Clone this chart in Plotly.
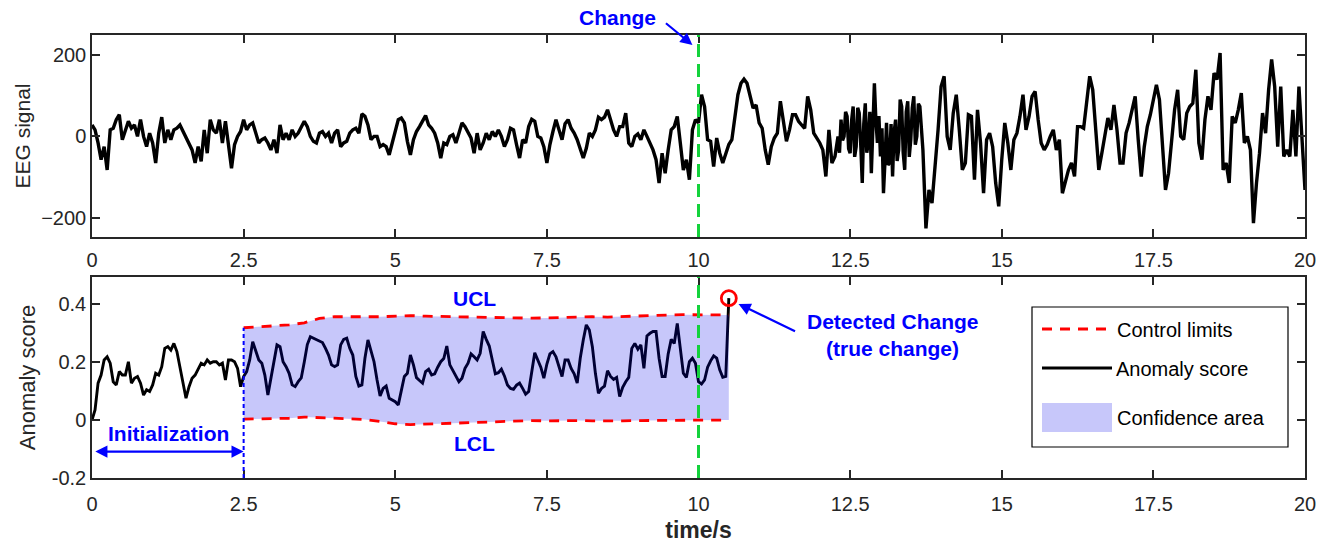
import numpy as np
import plotly.graph_objects as go

FONT = "Arial, Liberation Sans, sans-serif"
AXIS_GREY = "#262626"
BLUE = "#0000ff"

# EEG recording (µV): 0.05 s sampling, except a finer 0.025 s stretch
# over the fast burst between 12.3 s and 13.7 s
DT = 0.05
DT_FAST = 0.025
FAST_START, FAST_END = 12.3, 13.7

eeg_uv_before = [
    28, 16, -16, -57, -25, -82, 16, 20, 41, 53,
    -8, 16, 37, 20, 28, 0, 41, 0, -25, 8,
    -16, -65, 8, 47, -16, 16, -8, 16, 20, 28,
    12, -4, -20, -33, -65, -25, -61, 16, -41, 41,
    16, 8, 41, -16, 37, -16, -78, -20, 0, 12,
    41, 16, 28, 33, 8, -16, -8, -4, -16, -33,
    -8, -41, 28, -8, 8, -8, 16, 0, 8,
    24, 37, 24, 0, -12, -16, 8, 12, 0, 8,
    -16, 8, 16, -25, -16, -12, 8, 16, 20, 8,
    55, 49, 28, -8, 0, 0, -25, -20, -25, -45,
    -16, 16, 41, 45, 33, -12, -45, -8, 12, 24,
    37, 51, 28, 20, 8, -16, -53, -16, -20, 0,
    4, -16, 8, 33, 24, 8, -4, -41, 8, -33,
    -16, 8, -8, 12, 0, 16,
    0, -25, -8, 20, 16, -20, -53, -8, -16, 24,
    42, 37, 0, -4, -25, -65, -20, 12, 41, 16,
    -8, 31, 41, 20, 8, -8, -33, -53, -29, 8,
    0, 16, 47, 41, 47, 65, 41, 16, 0, 24,
    24, 57, -16, -25, 0, 6, -8, 16, 0, -16,
    -33, -57, -114, -41, -90, -33, 16, 24, 49, -16,
    -82, -57, -106, 16, 41, 33,
    102, 73, -8, -12, -74, -4, -41, -65, -41, -20,
    -8, 53, 102, 130, 140, 130, 98, 69, 77, 33,
    20, -33, -69, -25, -4, 8, 86, 37, -12, 16,
    53, 53, 37, 28, 20, 98, 65, 8, -4, -16,
    -33, -98, 16, -65, -49,
]
eeg_uv_fast = [
    0, -40, 41, -10, 0, 60, 49, -30, -41, 40,
    73, -50, -25, 70, 57, -20, -114, 30, 81, -40,
    -16, 60, -90, 20, 130, 40, -16, 50, -49, 20,
    -139, -60, 33, -70, -65, 30, -98, 10, 41, -60,
    -33, 90, 73, -40, -82, 60, 86, -50, -8, 70,
    98, -20, 0, 80, 73, 20, -33,
]
eeg_uv_after = [
    -225, -131,
    -163, -82, 16, 122, 147, 0, -33, 57, 102, 16,
    -82, -65, 53, 49, -106, 65, -16, -139, -8, 8,
    -25, -114, -171, -57, 33, -16, -82, -8, 8, 49,
    102, 16, 49, 98, 110, 41, -16, -33, -20, 0,
    16, -33, -8, -139, -106, -82, -65, -98, 24, 24,
    20, 81, 147, 114, 16, -82,
    -41, 8, 45, 16, 77, 16, -65, -65, 8, 33,
    65, 98, -8, -98, -25, 24, 53, 90, 126, 90,
    -33, -131, -90, -16, 65, 114, 0, -8, 57, 73,
    81, 163, -16, -57, 41, 98, 65, 155, 139, 204,
    -82, -65, -114, 49, 33, 65, 106, -16, 0, -33,
    -212, -114, -41, 57, 8, 114, 188, 122, -25, 122,
    -49, -33, -49, 65, -49, 122, -8, -131,
]

# anomaly score, 0.05 s step, 0 to 10.5 s
anomaly_score = [
    0.0, 0.035, 0.127, 0.155, 0.207, 0.218, 0.196, 0.132, 0.121, 0.167,
    0.155, 0.155, 0.201, 0.127, 0.144, 0.150, 0.127, 0.086, 0.104, 0.098,
    0.121, 0.161, 0.155, 0.184, 0.247, 0.253, 0.241, 0.264, 0.236, 0.184,
    0.132, 0.075, 0.115, 0.144, 0.155, 0.173, 0.196, 0.190, 0.207, 0.196,
    0.201, 0.201, 0.190, 0.196, 0.138, 0.207, 0.207, 0.201, 0.178, 0.115,
    0.150, 0.167, 0.207, 0.270, 0.241, 0.207, 0.196, 0.155, 0.086, 0.144,
    0.201, 0.259, 0.253, 0.201, 0.184, 0.161, 0.121, 0.115, 0.132,
    0.145, 0.200, 0.260, 0.287, 0.282, 0.278, 0.272, 0.267, 0.247, 0.224,
    0.190, 0.184, 0.190, 0.259, 0.278, 0.282, 0.247, 0.224, 0.150, 0.117,
    0.121, 0.213, 0.276, 0.241, 0.201, 0.138, 0.083, 0.109, 0.117, 0.075,
    0.069, 0.063, 0.052, 0.098, 0.150, 0.161, 0.224, 0.190, 0.146, 0.136,
    0.127, 0.167, 0.175, 0.155, 0.159, 0.182, 0.201, 0.212, 0.255, 0.190,
    0.170, 0.150, 0.132, 0.144, 0.178, 0.196, 0.228, 0.218, 0.207, 0.230,
    0.305, 0.278, 0.255, 0.207, 0.159, 0.163, 0.175, 0.152, 0.121, 0.109,
    0.106, 0.120,
    0.127, 0.109, 0.089, 0.098, 0.161, 0.232, 0.207, 0.182, 0.144, 0.193,
    0.228, 0.236, 0.218, 0.186, 0.150, 0.207, 0.207, 0.178, 0.159, 0.127,
    0.213, 0.276, 0.328, 0.310, 0.253, 0.161, 0.092, 0.109, 0.117, 0.170,
    0.150, 0.140, 0.147, 0.081, 0.113, 0.132, 0.147, 0.247, 0.264, 0.244,
    0.259, 0.178, 0.290, 0.299, 0.305, 0.305, 0.213, 0.150, 0.150, 0.228,
    0.278, 0.264, 0.333, 0.247, 0.161, 0.147, 0.201, 0.213, 0.196, 0.132,
    0.124, 0.138, 0.182, 0.204, 0.221, 0.213, 0.173, 0.147, 0.150, 0.420,
]

# control limits, every 0.25 s from 2.5 s to 10.5 s
LIMIT_START, LIMIT_STEP = 2.5, 0.25
ucl = [
    0.318, 0.322, 0.326, 0.328, 0.335, 0.350, 0.356, 0.357, 0.356, 0.356,
    0.358, 0.360, 0.358, 0.357, 0.355, 0.354, 0.355, 0.354, 0.352, 0.351,
    0.352, 0.354, 0.356, 0.356, 0.355, 0.357, 0.360, 0.361, 0.362, 0.363,
    0.363, 0.362, 0.362,
]
lcl = [
    0.003, 0.004, 0.005, 0.006, 0.010, 0.008, 0.005, 0.004, 0.002, -0.005,
    -0.013, -0.016, -0.014, -0.012, -0.010, -0.008, -0.006, -0.004, -0.002, -0.002,
    -0.003, -0.002, -0.002, -0.003, -0.004, -0.003, -0.002, -0.002, -0.002, -0.002,
    0.000, 0.000, 0.000,
]

CHANGE_TIME = 10.0
INIT_END = 2.5

x_tick_vals = [0, 2.5, 5, 7.5, 10, 12.5, 15, 17.5, 20]
x_tick_text = ["0", "2.5", "5", "7.5", "10", "12.5", "15", "17.5", "20"]
eeg_tick_vals = [-200, 0, 200]
score_tick_vals = [-0.2, 0, 0.2, 0.4]
score_tick_text = ["-0.2", "0", "0.2", "0.4"]

# time stamps for the three EEG stretches
t_before = np.arange(len(eeg_uv_before)) * DT
t_fast = FAST_START + np.arange(len(eeg_uv_fast)) * DT_FAST
t_after = FAST_END + DT + np.arange(len(eeg_uv_after)) * DT
t_eeg = np.concatenate([t_before, t_fast, t_after])
eeg_uv = eeg_uv_before + eeg_uv_fast + eeg_uv_after

t_score = np.arange(len(anomaly_score)) * DT
t_limit = LIMIT_START + np.arange(len(ucl)) * LIMIT_STEP

fig = go.Figure()

fig.add_trace(go.Scatter(x=t_eeg, y=eeg_uv, mode="lines", xaxis="x", yaxis="y",
                         line=dict(color="black", width=3.4), showlegend=False))
fig.add_trace(go.Scatter(x=t_score, y=anomaly_score, mode="lines", xaxis="x2", yaxis="y2",
                         line=dict(color="black", width=2.9), showlegend=False))
# translucent confidence band between the limits (drawn over the score line)
fig.add_trace(go.Scatter(x=t_limit, y=lcl, mode="lines", xaxis="x2", yaxis="y2",
                         line=dict(width=0, color="rgba(0,0,0,0)"), showlegend=False))
fig.add_trace(go.Scatter(x=t_limit, y=ucl, mode="lines", xaxis="x2", yaxis="y2",
                         fill="tonexty", fillcolor="rgba(0,0,230,0.22)",
                         line=dict(width=0, color="rgba(0,0,0,0)"), showlegend=False))
for lim in (ucl, lcl):
    fig.add_trace(go.Scatter(x=t_limit, y=lim, mode="lines", xaxis="x2", yaxis="y2",
                             line=dict(color="#ff0000", width=2.8, dash="10px,8px"),
                             showlegend=False))
# detected change point
fig.add_trace(go.Scatter(x=[t_score[-1]], y=[anomaly_score[-1]], mode="markers",
                         xaxis="x2", yaxis="y2",
                         marker=dict(symbol="circle-open", size=15, color="#ff0000",
                                     line=dict(width=2.8, color="#ff0000")),
                         showlegend=False))

axis_common = dict(showline=True, linecolor=AXIS_GREY, linewidth=1.5, mirror="ticks",
                   ticks="inside", ticklen=8, tickwidth=1.5, tickcolor=AXIS_GREY,
                   showgrid=False, zeroline=False, automargin=False,
                   tickfont=dict(family=FONT, size=20, color=AXIS_GREY))

TOP_DOMAIN = [0.544, 1.0]
BOTTOM_DOMAIN = [0.0, 0.4537]

fig.update_layout(
    width=1332, height=546,
    margin=dict(l=92, r=27, t=35, b=68, autoexpand=False),
    paper_bgcolor="white", plot_bgcolor="white",
    font=dict(family=FONT, color=AXIS_GREY),
    showlegend=False,
    xaxis=dict(domain=[0, 1], anchor="y", range=[0, 20], tickvals=x_tick_vals,
               ticktext=x_tick_text, ticklabelstandoff=4, **axis_common),
    yaxis=dict(domain=TOP_DOMAIN, anchor="x", range=[-246, 248], tickvals=eeg_tick_vals,
               title=dict(text="EEG signal", font=dict(family=FONT, size=21, color=AXIS_GREY),
                          standoff=5),
               **axis_common),
    xaxis2=dict(domain=[0, 1], anchor="y2", range=[0, 20], tickvals=x_tick_vals,
                ticktext=x_tick_text, ticklabelstandoff=7,
                title=dict(text="<b>time/s</b>", font=dict(family=FONT, size=23, color=AXIS_GREY),
                           standoff=8),
                **axis_common),
    yaxis2=dict(domain=BOTTOM_DOMAIN, anchor="x2", range=[-0.2, 0.493],
                tickvals=score_tick_vals, ticktext=score_tick_text,
                title=dict(text="Anomaly score", font=dict(family=FONT, size=22, color=AXIS_GREY),
                           standoff=10),
                **axis_common),
)

# change-point marker in both panels
for yref in ("y domain", "y2 domain"):
    fig.add_shape(type="line", xref="x", yref=yref, x0=CHANGE_TIME, x1=CHANGE_TIME,
                  y0=0, y1=1, line=dict(color="#14d23c", width=3, dash="13px,7px"))

# end of the initialization window
fig.add_shape(type="line", xref="x2", yref="y2", x0=INIT_END, x1=INIT_END,
              y0=-0.2, y1=ucl[0], line=dict(color=BLUE, width=2, dash="4px,3px"))

bold = dict(family=FONT, size=21, color=BLUE)

fig.add_annotation(xref="paper", yref="paper", x=0.4336, y=(478 - 18) / 443,
                   text="<b>Change</b>", showarrow=False, font=bold,
                   xanchor="center", yanchor="middle")
fig.add_annotation(xref="x", yref="paper", x=9.9, y=(478 - 45) / 443, text="",
                   showarrow=True, ax=-28, ay=-23, arrowhead=2, arrowsize=1.1,
                   arrowwidth=2.2, arrowcolor=BLUE)

fig.add_annotation(xref="x2", yref="y2", x=6.3, y=0.42, text="<b>UCL</b>",
                   showarrow=False, font=bold, xanchor="center", yanchor="middle")
fig.add_annotation(xref="x2", yref="y2", x=6.3, y=-0.08, text="<b>LCL</b>",
                   showarrow=False, font=bold, xanchor="center", yanchor="middle")

fig.add_annotation(xref="x2", yref="y2", x=1.26, y=-0.048, text="<b>Initialization</b>",
                   showarrow=False, font=bold, xanchor="center", yanchor="middle")
fig.add_annotation(xref="x2", yref="y2", x=INIT_END, y=-0.109, axref="x2", ayref="y2",
                   ax=0.03, ay=-0.109, text="", showarrow=True, arrowside="end+start",
                   arrowhead=2, arrowsize=1.1, arrowwidth=2.2, arrowcolor=BLUE)

fig.add_annotation(xref="x2", yref="y2", x=13.2, y=0.34, text="<b>Detected Change</b>",
                   showarrow=False, font=bold, xanchor="center", yanchor="middle")
fig.add_annotation(xref="x2", yref="y2", x=13.2, y=0.247, text="<b>(true change)</b>",
                   showarrow=False, font=bold, xanchor="center", yanchor="middle")
fig.add_annotation(xref="x2", yref="y2", x=10.66, y=0.40, text="",
                   showarrow=True, ax=58, ay=28, arrowhead=2, arrowsize=1.1,
                   arrowwidth=2.2, arrowcolor=BLUE)


# legend box (paper coordinates converted from the plot frame)
def px(xp):
    return (xp - 92) / 1213


def py(yp):
    return (478 - yp) / 443


fig.add_shape(type="rect", xref="paper", yref="paper", x0=px(1032), x1=px(1288),
              y0=py(447), y1=py(307), line=dict(color="black", width=1.2), fillcolor="white")
fig.add_shape(type="line", xref="paper", yref="paper", x0=px(1042), x1=px(1109),
              y0=py(329), y1=py(329), line=dict(color="#ff0000", width=2.8, dash="10px,8px"))
fig.add_shape(type="line", xref="paper", yref="paper", x0=px(1042), x1=px(1112),
              y0=py(368), y1=py(368), line=dict(color="black", width=2.8))
fig.add_shape(type="rect", xref="paper", yref="paper", x0=px(1042), x1=px(1112),
              y0=py(432), y1=py(403), line=dict(width=0), fillcolor="rgba(0,0,230,0.22)")
legend_font = dict(family=FONT, size=20, color="black")
for label, yp, xp in (("Control limits", 330, 1115), ("Anomaly score", 369, 1114),
                      ("Confidence area", 418, 1115)):
    fig.add_annotation(xref="paper", yref="paper", x=px(xp), y=py(yp), text=label,
                       showarrow=False, xanchor="left", yanchor="middle", font=legend_font)

fig.write_html("out.html")
